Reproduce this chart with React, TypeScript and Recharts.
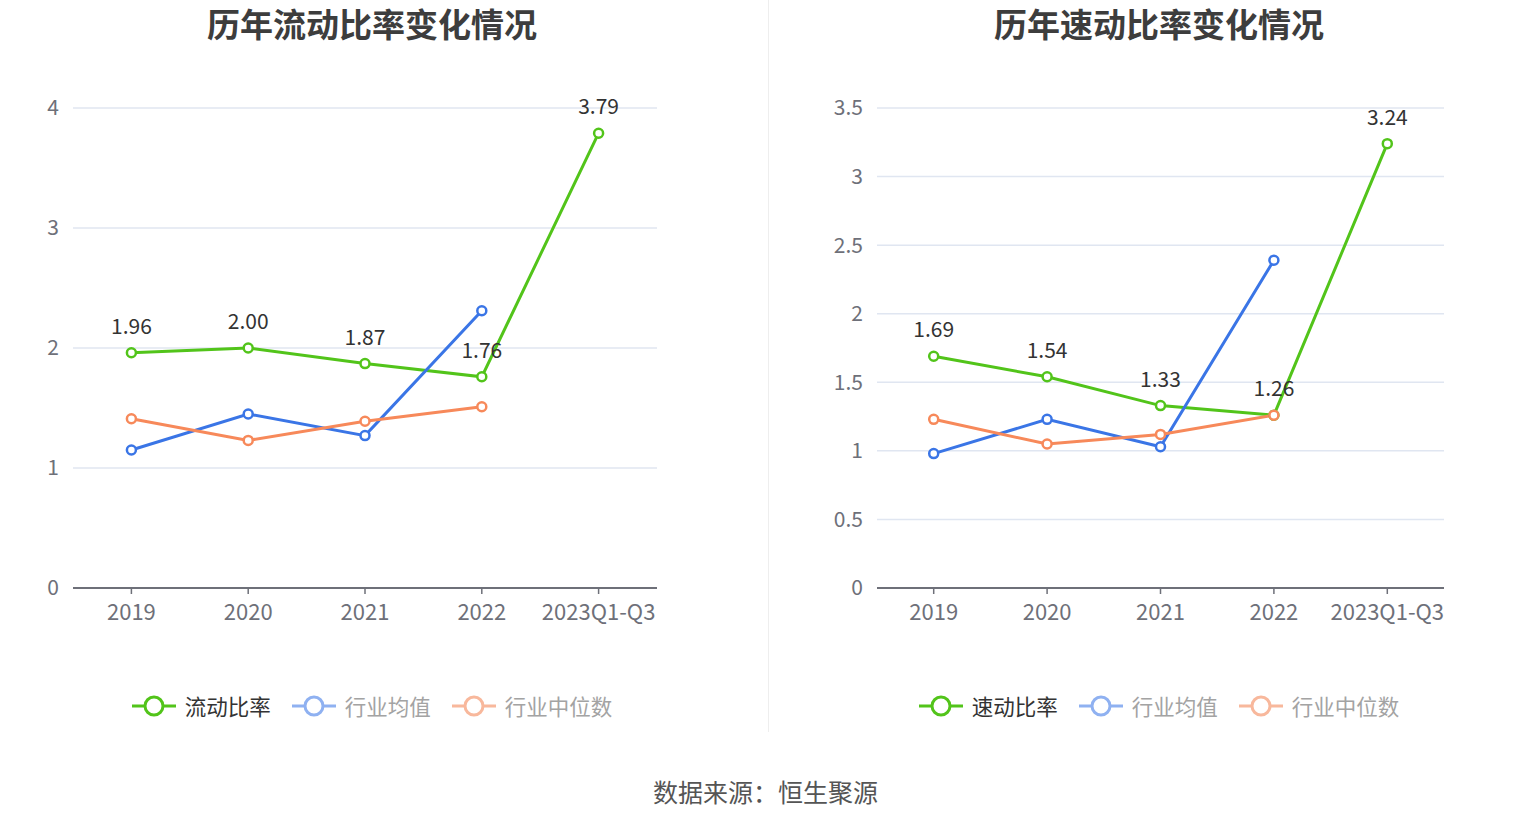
import { LineChart, Line, XAxis, YAxis, CartesianGrid, LabelList } from 'recharts';

const categories = ['2019', '2020', '2021', '2022', '2023Q1-Q3'];

// 流动比率
const currentRatio = [1.96, 2.0, 1.87, 1.76, 3.79];
const currentAvg = [1.15, 1.45, 1.27, 2.31, null];
const currentMedian = [1.41, 1.23, 1.39, 1.51, null];
const currentTicks = [0, 1, 2, 3, 4];

// 速动比率
const quickRatio = [1.69, 1.54, 1.33, 1.26, 3.24];
const quickAvg = [0.98, 1.23, 1.03, 2.39, null];
const quickMedian = [1.23, 1.05, 1.12, 1.26, null];
const quickTicks = [0, 0.5, 1, 1.5, 2, 2.5, 3, 3.5];

const FONT = '"Noto Sans CJK SC", "Noto Sans", sans-serif';
const GREEN = '#52c41a';
const BLUE = '#3a75e6';
const ORANGE = '#f7895a';

const buildRows = (main: number[], avg: (number | null)[], median: (number | null)[]) =>
  categories.map((name, i) => ({ name, main: main[i], avg: avg[i], median: median[i] }));

interface PanelProps {
  title: string;
  mainName: string;
  rows: ReturnType<typeof buildRows>;
  ticks: number[];
  offsetX: number;
  marginLeft: number;
  marginRight: number;
  center: number;
}

function LegendIcon({ color }: { color: string }) {
  return (
    <svg width={44} height={24} style={{ display: 'block' }}>
      <line x1={0} y1={12} x2={44} y2={12} stroke={color} strokeWidth={3} />
      <circle cx={22} cy={12} r={9} fill="#fff" stroke={color} strokeWidth={3} />
    </svg>
  );
}

function Panel({ title, mainName, rows, ticks, offsetX, marginLeft, marginRight, center }: PanelProps) {
  const plotWidth = 765 - marginLeft - marginRight - 60;
  const pad = plotWidth / categories.length / 2;
  const legendItems = [
    { name: mainName, icon: GREEN, text: '#333' },
    { name: '行业均值', icon: '#8fb1f1', text: '#a3a3a3' },
    { name: '行业中位数', icon: '#f8b89c', text: '#a3a3a3' },
  ];
  const dot = (c: string) => ({ r: 4.5, fill: '#fff', stroke: c, strokeWidth: 2.5 });
  return (
    <>
      <div
        style={{
          position: 'absolute', left: center - 300, width: 600, top: 3, textAlign: 'center',
          fontSize: 33, fontWeight: 700, color: '#3d3d3d', lineHeight: '40px',
        }}
      >
        {title}
      </div>
      <div style={{ position: 'absolute', left: offsetX, top: 0 }}>
        <LineChart
          width={765}
          height={680}
          data={rows}
          margin={{ top: 108, right: marginRight, bottom: 62, left: marginLeft }}
        >
          <CartesianGrid horizontal vertical={false} stroke="#e0e6f1" strokeWidth={1.5} />
          <XAxis
            dataKey="name"
            padding={{ left: pad, right: pad }}
            height={30}
            axisLine={{ stroke: '#6e7079', strokeWidth: 2 }}
            tickLine={{ stroke: '#6e7079', strokeWidth: 1.5 }}
            tickSize={6}
            tickMargin={10}
            tick={{ fill: '#6e7079', fontSize: 22, fontFamily: FONT }}
            interval={0}
          />
          <YAxis
            domain={[ticks[0], ticks[ticks.length - 1]]}
            ticks={ticks}
            width={60}
            axisLine={false}
            tickLine={false}
            tickSize={0}
            tickMargin={14}
            tick={{ fill: '#6e7079', fontSize: 21, fontFamily: FONT }}
            interval={0}
          />
          <Line dataKey="main" stroke={GREEN} strokeWidth={3} dot={dot(GREEN)} isAnimationActive={false}>
            <LabelList
              dataKey="main"
              position="top"
              offset={19}
              fill="#333"
              fontSize={21}
              fontFamily={FONT}
              formatter={(v: any) => Number(v).toFixed(2)}
            />
          </Line>
          <Line dataKey="avg" stroke={BLUE} strokeWidth={3} dot={dot(BLUE)} isAnimationActive={false} />
          <Line dataKey="median" stroke={ORANGE} strokeWidth={3} dot={dot(ORANGE)} isAnimationActive={false} />
        </LineChart>
      </div>
      <div
        style={{
          position: 'absolute', left: center - 300, width: 600, top: 692, display: 'flex',
          justifyContent: 'center', alignItems: 'center', fontSize: 21.5,
        }}
      >
        {legendItems.map((it) => (
          <div key={it.name} style={{ display: 'flex', alignItems: 'center', margin: '0 10.5px' }}>
            <LegendIcon color={it.icon} />
            <span style={{ marginLeft: 9, color: it.text, lineHeight: '28px' }}>{it.name}</span>
          </div>
        ))}
      </div>
    </>
  );
}

export default function App() {
  return (
    <div
      style={{
        position: 'absolute', left: 0, top: 0, width: 1531, height: 826,
        background: '#fff', fontFamily: FONT, overflow: 'hidden',
      }}
    >
      <Panel
        title="历年流动比率变化情况"
        mainName="流动比率"
        rows={buildRows(currentRatio, currentAvg, currentMedian)}
        ticks={currentTicks}
        offsetX={0}
        marginLeft={13}
        marginRight={108}
        center={372}
      />
      <div style={{ position: 'absolute', left: 768, top: 0, width: 1, height: 732, background: '#eeeeee' }} />
      <Panel
        title="历年速动比率变化情况"
        mainName="速动比率"
        rows={buildRows(quickRatio, quickAvg, quickMedian)}
        ticks={quickTicks}
        offsetX={765}
        marginLeft={52}
        marginRight={86}
        center={1159}
      />
      <div
        style={{
          position: 'absolute', left: 0, width: 1531, top: 774, textAlign: 'center',
          fontSize: 25, color: '#555', lineHeight: '34px',
        }}
      >
        数据来源：恒生聚源
      </div>
    </div>
  );
}
